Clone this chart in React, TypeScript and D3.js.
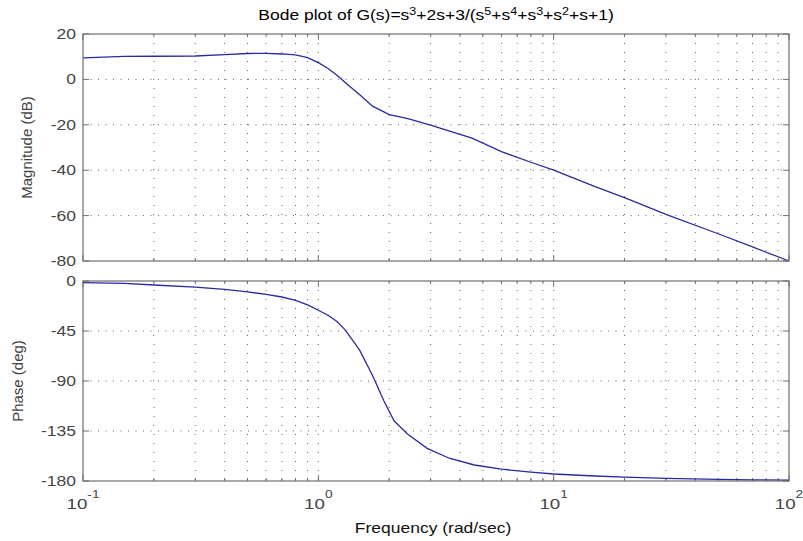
import * as d3 from 'd3';

// frequency samples (rad/sec) and values
const magFreq = [0.1, 0.15, 0.2, 0.3, 0.4, 0.5, 0.6, 0.7, 0.8, 0.9, 1.0, 1.1, 1.2, 1.35, 1.5, 1.7, 2.0, 2.4, 3.0, 3.5, 4.5, 6.0, 8.0, 10, 15, 20, 30, 50, 70, 100];
const magDb = [9.5, 10.1, 10.2, 10.3, 10.9, 11.4, 11.5, 11.2, 10.8, 9.6, 7.4, 4.8, 1.8, -2.8, -6.8, -11.8, -15.5, -17.3, -20.1, -22.3, -25.9, -31.8, -36.5, -40, -47.2, -52.1, -59.5, -68, -73.8, -80];

const phaseFreq = [0.1, 0.15, 0.2, 0.3, 0.4, 0.5, 0.6, 0.7, 0.8, 0.9, 1.0, 1.1, 1.2, 1.3, 1.4, 1.5, 1.7, 1.9, 2.1, 2.4, 2.9, 3.6, 4.6, 6, 8, 10, 15, 20, 30, 50, 70, 100];
const phaseDeg = [-1.5, -2.1, -3.6, -5.6, -7.6, -9.8, -12, -14.4, -17.4, -21.5, -26.3, -30.8, -36.5, -44, -53.5, -62.5, -85, -108, -126, -138, -150.6, -159.5, -165.6, -169.3, -172, -173.7, -175.5, -176.5, -177.6, -178.5, -178.9, -179.3];

const magTicks = [20, 0, -20, -40, -60, -80];
const phaseTicks = [0, -45, -90, -135, -180];
const decadeExps = [-1, 0, 1, 2];

const FONT = 'Liberation Sans, Arial, sans-serif';
const SX = 1.25; // the picture's text is stretched sideways
const LINE = '#2a2aa0';
const AXIS = '#6e6e6e';
const LABEL = '#444';

const L = 83, R = 789;
const panels = [
  { top: 34, bottom: 261, domain: [-80, 20], ticks: magTicks, freq: magFreq, vals: magDb, label: 'Magnitude (dB)', labelX: 32, showX: false },
  { top: 281, bottom: 481, domain: [-180, 0], ticks: phaseTicks, freq: phaseFreq, vals: phaseDeg, label: 'Phase (deg)', labelX: 23, showX: true },
];

function HText({ x, y, anchor = 'middle', size = 14, fill = LABEL, children }: any) {
  return (
    <text transform={`translate(${x},${y}) scale(${SX},1)`} textAnchor={anchor} fontSize={size} fill={fill} fontFamily={FONT}>
      {children}
    </text>
  );
}

export default function App() {
  const x = d3.scaleLog().domain([0.1, 100]).range([L, R]);
  // every 1..9 step of each decade for the grid
  const gridFreqs: number[] = [];
  for (let e = -1; e < 2; e++) for (let k = 1; k <= 9; k++) gridFreqs.push(k * Math.pow(10, e));
  gridFreqs.push(100);

  return (
    <svg width={803} height={541} style={{ display: 'block', position: 'absolute', left: 0, top: 0, background: '#fff' }}>
      <HText x={436} y={20} size={14} fill="#000">
        Bode plot of G(s)=s<tspan dy={-5} fontSize={10}>3</tspan>
        <tspan dy={5}>+2s+3/(s</tspan><tspan dy={-5} fontSize={10}>5</tspan>
        <tspan dy={5}>+s</tspan><tspan dy={-5} fontSize={10}>4</tspan>
        <tspan dy={5}>+s</tspan><tspan dy={-5} fontSize={10}>3</tspan>
        <tspan dy={5}>+s</tspan><tspan dy={-5} fontSize={10}>2</tspan>
        <tspan dy={5}>+s+1)</tspan>
      </HText>

      {panels.map((p, i) => {
        const y = d3.scaleLinear().domain(p.domain).range([p.bottom, p.top]);
        const line = d3.line<number>().x((_, j) => x(p.freq[j])).y(v => y(v));
        return (
          <g key={i}>
            <rect x={L} y={p.top} width={R - L} height={p.bottom - p.top} fill="#fff" />
            {/* grid */}
            {gridFreqs.slice(1, -1).map(f => (
              <line key={'v' + f} x1={x(f)} x2={x(f)} y1={p.top} y2={p.bottom} stroke="#666" strokeWidth={1} strokeDasharray="1,8" />
            ))}
            {p.ticks.slice(1, -1).map(t => (
              <line key={'h' + t} x1={L} x2={R} y1={y(t)} y2={y(t)} stroke="#666" strokeWidth={1} strokeDasharray="1,6.5" />
            ))}
            {/* ticks inward on all four sides */}
            {gridFreqs.map(f => {
              const major = Math.abs(Math.log10(f) - Math.round(Math.log10(f))) < 1e-9;
              const len = major ? 6 : 3;
              return (
                <g key={'t' + f}>
                  <line x1={x(f)} x2={x(f)} y1={p.bottom} y2={p.bottom - len} stroke={AXIS} />
                  <line x1={x(f)} x2={x(f)} y1={p.top} y2={p.top + len} stroke={AXIS} />
                </g>
              );
            })}
            {p.ticks.map(t => (
              <g key={'yt' + t}>
                <line x1={L} x2={L + 6} y1={y(t)} y2={y(t)} stroke={AXIS} />
                <line x1={R} x2={R - 6} y1={y(t)} y2={y(t)} stroke={AXIS} />
                <HText x={76} y={y(t) + 5} anchor="end" size={14}>{t}</HText>
              </g>
            ))}
            <path d={line(p.vals) || ''} fill="none" stroke={LINE} strokeWidth={1.3} />
            <rect x={L} y={p.top} width={R - L} height={p.bottom - p.top} fill="none" stroke={AXIS} strokeWidth={1.2} />
            <text transform={`translate(${p.labelX},${(p.top + p.bottom) / 2}) rotate(-90)`} textAnchor="middle" fontSize={15} fill={LABEL} fontFamily={FONT}>
              {p.label}
            </text>
            {p.showX && decadeExps.map(e => (
              <HText key={'xl' + e} x={x(Math.pow(10, e))} y={509} size={15}>
                10<tspan dy={-11} fontSize={11}>{e}</tspan>
              </HText>
            ))}
          </g>
        );
      })}

      <HText x={433} y={533} size={14} fill="#111">Frequency  (rad/sec)</HText>
    </svg>
  );
}
